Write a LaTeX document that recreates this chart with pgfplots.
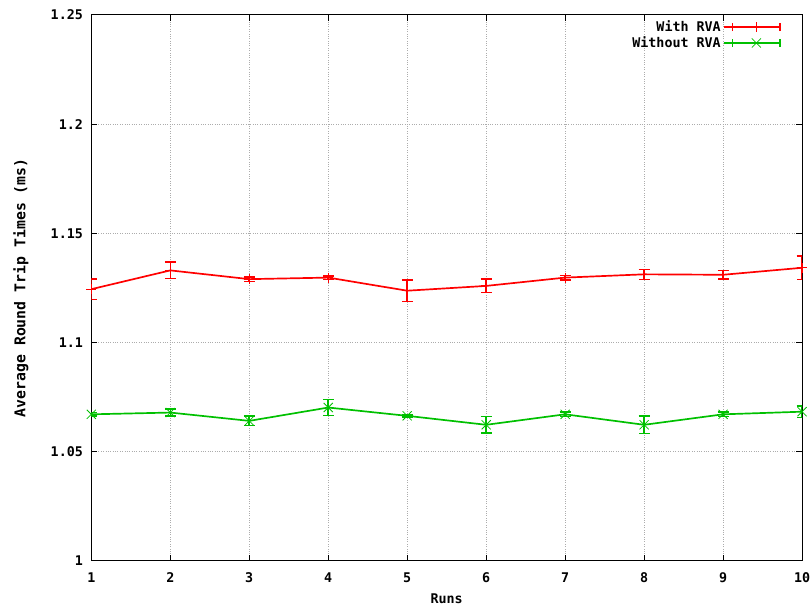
\documentclass[border=0pt]{standalone}
\usepackage{pgfplots}
\pgfplotsset{compat=1.18}
\usepackage{fontspec}
\setmonofont{DejaVu Sans Mono}
\definecolor{gred}{RGB}{255,0,0}
\definecolor{ggreen}{RGB}{0,192,0}
\newcommand{\gfont}{\ttfamily\bfseries\fontsize{13.5}{15}\selectfont}
\begin{document}
\begin{tikzpicture}
\begin{axis}[
  name=ax,
  scale only axis,
  width=716bp, height=550bp,
  xmin=1, xmax=10, ymin=1, ymax=1.25,
  xtick={1,...,10},
  xticklabels={1,2,3,4,5,6,7,8,9,10},
  ytick={1,1.05,1.1,1.15,1.2,1.25},
  yticklabels={1,1.05,1.1,1.15,1.2,1.25},
  grid=major,
  grid style={gray!65, dotted, line width=0.9bp},
  axis line style={black, line width=0.9bp},
  tick style={black, line width=0.9bp},
  major tick length=6bp,
  tick align=inside,
  ticklabel style={font=\gfont},
  xticklabel style={anchor=center, yshift=-17bp},
  yticklabel style={anchor=east, xshift=-5bp},
  label style={font=\gfont},
  xlabel={Runs},
  ylabel={Average Round Trip Times (ms)},
  xlabel style={at={(rel axis cs:0.5,0)}, anchor=center, yshift=-38bp},
  ylabel style={at={(rel axis cs:0,0.5)}, anchor=center, yshift=71bp,
    font=\ttfamily\bfseries\fontsize{15}{16}\selectfont},
  legend style={at={(rel axis cs:1,1)}, anchor=north east, xshift=-18bp, yshift=-2bp,
    draw=none, fill=none, font=\gfont, row sep=-0.5bp},
  legend cell align=right,
  legend plot pos=right,
  every axis plot/.append style={line width=1.7bp},
  legend image code/.code={
    \path (0bp,0bp) -- (9bp,0bp);
    \draw[#1, mark=none] (9bp,0bp) -- (57bp,0bp);
    \draw[#1, mark=none] (9bp,-4bp) -- (9bp,4bp) (57bp,-4bp) -- (57bp,4bp);
    \draw[#1, only marks] plot coordinates {(33bp,0bp)};
  },
]
\addplot+[gred, mark=+, mark size=5bp, mark options={solid, line width=1bp},
  error bars/.cd, y dir=both, y explicit,
  error bar style={line width=1.6bp, gred},
  error mark options={rotate=90, mark size=5.5bp, line width=1.6bp, gred}]
  table[x=x, y=y, y error=e] {
x y e
1 1.1244 0.0047
2 1.1330 0.0038
3 1.1290 0.0010
4 1.1297 0.0008
5 1.1237 0.0050
6 1.1259 0.0031
7 1.1297 0.0010
8 1.1312 0.0023
9 1.1310 0.0019
10 1.1342 0.0053
};
\addlegendentry{With RVA}
\addplot+[ggreen, mark=x, mark size=6.5bp, mark options={solid, line width=0.8bp},
  error bars/.cd, y dir=both, y explicit,
  error bar style={line width=1.6bp, ggreen},
  error mark options={rotate=90, mark size=5.5bp, line width=1.6bp, ggreen}]
  table[x=x, y=y, y error=e] {
x y e
1 1.0671 0.0008
2 1.0679 0.0015
3 1.0641 0.0021
4 1.0702 0.0036
5 1.0664 0.0004
6 1.0623 0.0038
7 1.0671 0.0010
8 1.0623 0.0039
9 1.0671 0.0010
10 1.0683 0.0027
};
\addlegendentry{Without RVA}
\end{axis}
\pgfresetboundingbox
\path ([xshift=-92bp,yshift=-48bp]ax.south west) rectangle ([xshift=9bp,yshift=15bp]ax.north east);
\end{tikzpicture}
\end{document}
